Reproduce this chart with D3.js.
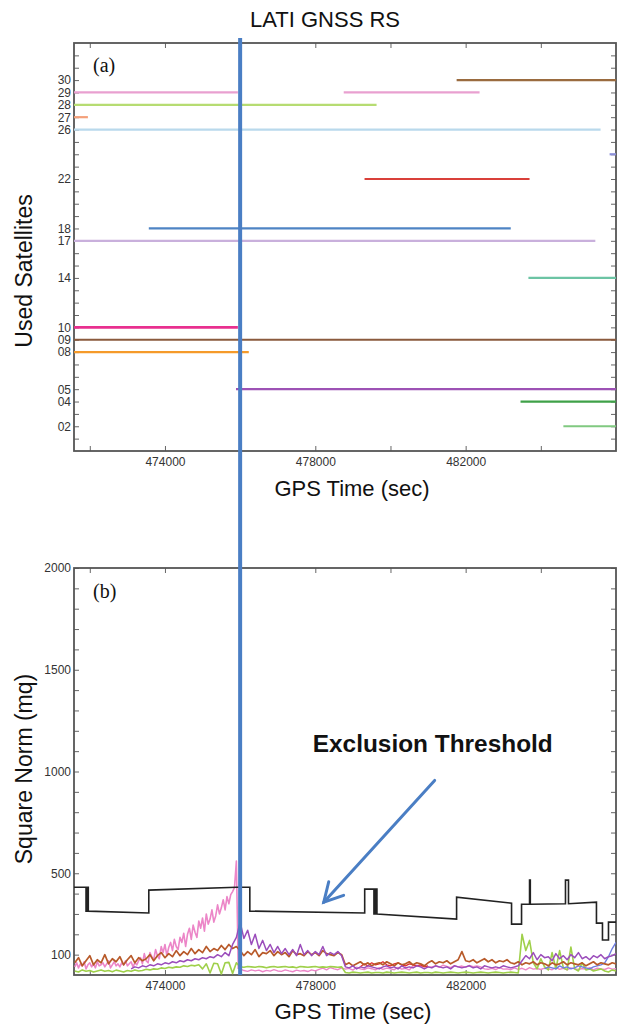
<!DOCTYPE html>
<html><head><meta charset="utf-8">
<script src="https://cdn.jsdelivr.net/npm/d3@7"></script>
<style>
body{margin:0;background:#fff;}
svg{display:block;font-family:"Liberation Sans",Arial,sans-serif;}
</style></head><body>
<svg id="c" width="621" height="1026"></svg>
<script>
// ---------------- data ----------------
const chartTitle = "LATI GNSS RS";
const satPrn   = [30, 29, 29, 28, 27, 26, 24, 22, 18, 17, 14, 10, 9, 8, 5, 4, 2];
const satStart = [481760, 471580, 478756, 471580, 471580, 471580, 485830, 479310, 473570, 471580, 483670, 471580, 471580, 471580, 475890, 483460, 484600];
const satEnd   = [486000, 475940, 482370, 479630, 471950, 485590, 486000, 483700, 483200, 485450, 486000, 475940, 486000, 476230, 486000, 486000, 486000];
const satColor = ["#9a6b3f","#e9a0d0","#e9a0d0","#b6dc72","#f4a07a","#b9d9ec","#8b8fd8","#d9403a","#4f84c4","#c9b0dc","#6cc4a4","#e8308f","#8a5a3d","#f59a2a","#9d52b5","#3fa148","#80c980"];
const satTickLabels = [30, 29, 28, 27, 26, 22, 18, 17, 14, 10, 9, 8, 5, 4, 2];
const timeTickValues = [472000, 474000, 476000, 478000, 480000, 482000, 484000];
const timeTickLabels = [474000, 478000, 482000];
const normTickLabels = [100, 500, 1000, 1500, 2000];
const faultTime = 476000;

// exclusion threshold (step line)
const thrTime  = [471580,471900,471900,471930,471930,471960,471960,473570,473570,475912,476258,476258,479314,479314,479560,479560,479600,479600,479640,479640,481759,481759,483221,483221,483487,483487,483700,483700,483720,483720,484656,484656,484736,484736,485480,485480,485640,485640,485800,485800,486000];
const thrValue = [431,431,314,314,431,431,314,305,417,431,431,314,305,422,422,300,300,422,422,300,275,382,353,250,250,348,348,466,466,348,350,466,466,350,358,255,255,172,172,260,260];

// square-norm traces
// pink (faulty satellite) before the fault epoch, 50 s grid from 471600
const pinkRiseStart = 471600, pinkRiseStep = 50;
const normPinkRise = [40,60,35,55,45,65,30,50,60,40,55,35,65,45,50,60,40,55,70,35,50,65,45,55,40,60,50,70,45,55,65,40,60,50,70,
 85,55,105,70,60,110,90,75,125,95,
 80,140,110,150,95,135,160,120,175,140,
 125,185,160,205,140,200,230,175,245,210,
 185,265,230,280,215,300,250,275,320,260,
 290,345,300,330,370,320,385,350,395,410,
 430,560,30];
// other traces, 100 s grid starting at normStart
const normStart = 471600, normStep = 100;
const pinkOffset = 44;
const normPink = [30,
 22,18,25,20,24,16,23,19,26,20,
 18,25,20,16,24,19,22,17,25,20,
 28,34,25,37,30,26,35,29,33,24,
 38,30,27,35,31,25,36,28,34,30,
 26,37,29,33,25,45,48,42,46,40,
 40,45,38,48,42,36,46,40,44,38,
 47,41,45,40,30,28,33,27,36,29,
 30,26,35,28,33,25,36,29,32,27,
 34,30,26,37,28,33,25,35,30,27,
 32,28,36,25,34,30,27,35,29,31];
const brownOffset = 0;
const normBrown = [60,85,45,70,95,50,75,60,100,55,80,65,90,50,75,95,60,85,70,
 80,100,70,95,110,85,105,90,120,95,115,100,130,105,125,110,140,115,130,120,145,125,150,130,140,
 120,95,115,100,125,90,110,105,120,95,115,100,110,90,120,100,105,95,115,100,110,95,120,105,100,95,110,100,
 50,60,45,55,65,50,60,45,55,60,50,65,55,45,60,50,55,65,50,60,55,45,60,70,55,65,60,70,55,65,75,115,70,
 65,75,60,70,80,65,75,60,70,65,75,60,55,65,50,60,55,65,50,60,55,45,60,50,55,65,50,60,55,50,60,45,55,65,50,60,55,50,60,55];
const purpleOffset = 15;
const normPurple = [30,40,35,45,40,50,45,55,50,60,55,65,60,70,65,75,70,80,75,85,80,90,85,100,90,110,95,150,185,
 260,180,220,150,200,130,170,120,150,110,140,105,130,100,125,95,150,100,120,95,115,100,140,95,110,100,115,95,
 40,35,45,30,40,35,45,40,35,30,40,45,35,40,30,45,35,40,35,45,40,30,40,35,45,40,35,40,30,45,40,35,40,45,35,40,30,45,40,35,40,35,45,40,35,40,45,
 70,95,80,110,75,100,85,90,70,105,80,95,75,100,85,110,80,90,75,95,85,100,80,90,95,105];
const greenOffset = 0;
const normGreen = [20,15,25,18,22,15,20,25,18,22,16,24,20,15,22,18,25,20,22,28,25,
 30,28,35,32,38,35,40,38,45,42,48,45,50,30,55,10,58,55,5,60,62,8,60,
 40,38,42,40,38,42,40,36,40,42,38,40,42,38,40,36,42,40,38,40,42,38,40,38,42,40,38,40,
 12,10,14,12,10,12,14,10,12,12,10,14,12,10,12,14,12,10,12,14,10,12,12,10,14,12,10,12,14,12,10,12,14,12,10,12,14,12,10,12,14,12,10,12,14,12,10,
 200,120,170,60,30,80,40,25,110,30,120,35,25,137,30,20,60,25,30,20,25,30,20,15,25,20];
const blueOffset = 125;
const normBlue = [30,40,35,30,45,35,40,30,35,45,40,35,30,40,45,50,60,90,130,160];
const redOffset = 76;
const normRed = [40,55,45,60,50,55,65,50,45,55,60,50,45,55,50,45,50,40,45];

// annotation (data units of panel b)
const annoText = "Exclusion Threshold";
const annoTextPos = [477932, 1098];
const arrowFrom = [481175, 956];
const arrowTo = [478225, 358];

// ---------------- drawing ----------------
const svg = d3.select("#c");
const L = 74, R = 616;
const aTop = 43, aBot = 451, bTop = 568, bBot = 975;
const x = d3.scaleLinear().domain([471580, 486000]).range([L, R]);
const yA = d3.scaleLinear().domain([0, 33]).range([aBot, aTop]);
const yB = d3.scaleLinear().domain([0, 2000]).range([bBot, bTop]);

function styleAxis(g) {
  g.select(".domain").remove();
  g.selectAll(".tick line").attr("stroke", "#666").attr("stroke-width", 1);
  g.selectAll(".tick text").attr("fill", "#333").style("font-size", "12px")
    .style("font-family", "'Liberation Sans', Arial, sans-serif");
}

function frame(yScale, top, bot, yTicks, yFmt) {
  svg.append("g").attr("transform", `translate(0,${bot})`)
    .call(d3.axisBottom(x).tickValues(timeTickValues).tickSize(-5).tickPadding(6)
      .tickFormat(d => timeTickLabels.includes(d) ? d : ""))
    .call(styleAxis);
  svg.append("g").attr("transform", `translate(0,${top})`)
    .call(d3.axisTop(x).tickValues(timeTickValues).tickSize(-5).tickFormat(""))
    .call(styleAxis);
  svg.append("g").attr("transform", `translate(${L},0)`)
    .call(d3.axisLeft(yScale).tickValues(yTicks).tickSize(-5).tickPadding(3).tickFormat(yFmt))
    .call(styleAxis);
  svg.append("g").attr("transform", `translate(${R},0)`)
    .call(d3.axisRight(yScale).tickValues(yTicks).tickSize(-5).tickFormat(""))
    .call(styleAxis);
  svg.append("rect").attr("x", L).attr("y", top).attr("width", R - L).attr("height", bot - top)
    .attr("fill", "none").attr("stroke", "#555").attr("stroke-width", 1.8);
}

// title
svg.append("text").attr("x", 325).attr("y", 27).attr("text-anchor", "middle")
  .style("font-size", "22px").attr("fill", "#111").text(chartTitle);

// ---- panel a ----
frame(yA, aTop, aBot, d3.range(1, 33),
  d => satTickLabels.includes(d) ? d3.format("02d")(d) : "");

svg.append("g").selectAll("line").data(satPrn).join("line")
  .attr("x1", (d, i) => x(satStart[i])).attr("x2", (d, i) => x(satEnd[i]))
  .attr("y1", d => yA(d)).attr("y2", d => yA(d))
  .attr("stroke", (d, i) => satColor[i])
  .attr("stroke-width", d => d === 10 ? 2.6 : 2.2);

svg.append("text").attr("x", 93).attr("y", 72)
  .style("font-family", "'Liberation Serif','Times New Roman',serif").style("font-size", "20px")
  .attr("fill", "#111").text("(a)");

svg.append("text").attr("transform", "translate(32,271) rotate(-90)").attr("text-anchor", "middle")
  .style("font-size", "23px").attr("fill", "#111").text("Used Satellites");
svg.append("text").attr("x", 352).attr("y", 496).attr("text-anchor", "middle")
  .attr("textLength", 155).attr("lengthAdjust", "spacingAndGlyphs")
  .style("font-size", "22px").attr("fill", "#111").text("GPS Time (sec)");

// ---- panel b ----
frame(yB, bTop, bBot, d3.range(100, 2001, 100),
  d => normTickLabels.includes(d) ? d : "");

svg.append("defs").append("clipPath").attr("id", "clipB")
  .append("rect").attr("x", L).attr("y", bTop).attr("width", R - L).attr("height", bBot - bTop);

const traces = [
  { vals: normPinkRise, t0: pinkRiseStart, step: pinkRiseStep, off: 0, color: "#ec86c8", w: 1.6 },
  { vals: normPink, t0: normStart, step: normStep, off: pinkOffset, color: "#ec86c8", w: 1.4 },
  { vals: normGreen, t0: normStart, step: normStep, off: greenOffset, color: "#9fd04a", w: 1.6 },
  { vals: normBlue, t0: normStart, step: normStep, off: blueOffset, color: "#6e7ce0", w: 1.4 },
  { vals: normRed, t0: normStart, step: normStep, off: redOffset, color: "#e03030", w: 1.3 },
  { vals: normBrown, t0: normStart, step: normStep, off: brownOffset, color: "#b85a2a", w: 1.7 },
  { vals: normPurple, t0: normStart, step: normStep, off: purpleOffset, color: "#9b4dbb", w: 1.5 }
];
const gB = svg.append("g").attr("clip-path", "url(#clipB)");
traces.forEach(tr => {
  const line = d3.line()
    .x((d, j) => x(tr.t0 + (tr.off + j) * tr.step))
    .y(d => yB(d));
  gB.append("path").datum(tr.vals).attr("d", line)
    .attr("fill", "none").attr("stroke", tr.color).attr("stroke-width", tr.w)
    .attr("stroke-linejoin", "round");
});

const thrLine = d3.line().x((d, i) => x(thrTime[i])).y(d => yB(d));
gB.append("path").datum(thrValue).attr("d", thrLine)
  .attr("fill", "none").attr("stroke", "#222").attr("stroke-width", 1.6);

svg.append("text").attr("x", 93).attr("y", 598)
  .style("font-family", "'Liberation Serif','Times New Roman',serif").style("font-size", "20px")
  .attr("fill", "#111").text("(b)");

svg.append("text").attr("transform", "translate(32,769) rotate(-90)").attr("text-anchor", "middle")
  .style("font-size", "23px").attr("fill", "#111").text("Square Norm (mq)");
svg.append("text").attr("x", 353).attr("y", 1019).attr("text-anchor", "middle")
  .attr("textLength", 157).attr("lengthAdjust", "spacingAndGlyphs")
  .style("font-size", "22px").attr("fill", "#111").text("GPS Time (sec)");

// annotation
svg.append("text").attr("x", x(annoTextPos[0])).attr("y", yB(annoTextPos[1]))
  .style("font-size", "23px").style("font-weight", "bold")
  .attr("textLength", 240).attr("lengthAdjust", "spacingAndGlyphs")
  .attr("fill", "#111").text(annoText);

const ax1 = x(arrowFrom[0]), ay1 = yB(arrowFrom[1]);
const ax2 = x(arrowTo[0]), ay2 = yB(arrowTo[1]);
const ang = Math.atan2(ay2 - ay1, ax2 - ax1);
const headLen = 21, spread = 0.5;
const arrowG = svg.append("g").attr("stroke", "#4a7ec4").attr("stroke-width", 3)
  .attr("fill", "none").attr("stroke-linecap", "round");
arrowG.append("line").attr("x1", ax1).attr("y1", ay1).attr("x2", ax2).attr("y2", ay2);
arrowG.append("polyline").attr("points", [
  [ax2 - headLen * Math.cos(ang - spread), ay2 - headLen * Math.sin(ang - spread)],
  [ax2, ay2],
  [ax2 - headLen * Math.cos(ang + spread), ay2 - headLen * Math.sin(ang + spread)]
].map(p => p.join(",")).join(" "));

// fault epoch vertical line across both panels
svg.append("line").attr("x1", x(faultTime)).attr("x2", x(faultTime))
  .attr("y1", aTop - 5).attr("y2", bBot)
  .attr("stroke", "#4a7ec4").attr("stroke-width", 4);
</script>
</body></html>
